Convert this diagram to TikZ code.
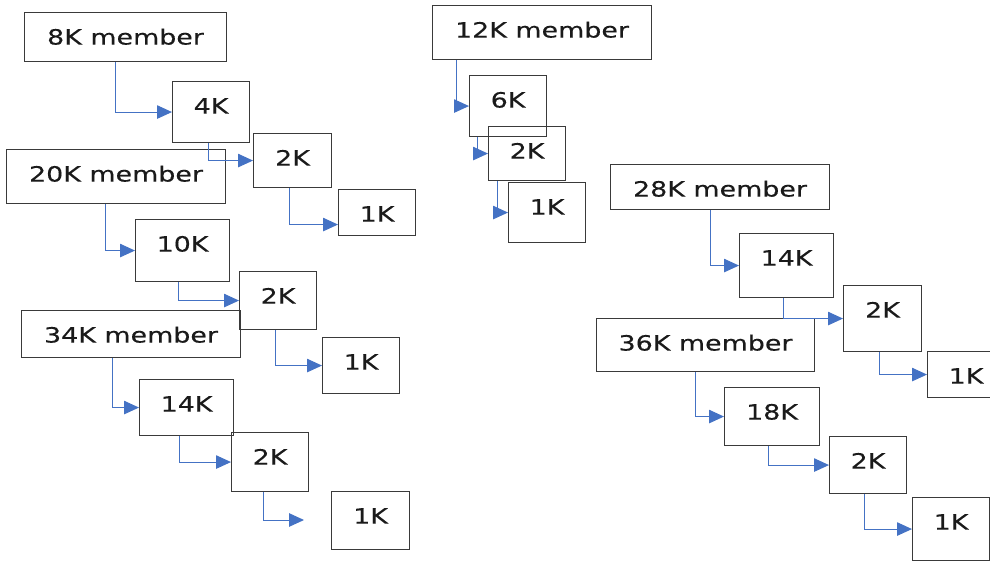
\documentclass[tikz,border=0pt]{standalone}
\usepackage{fontspec}
\setmainfont[FakeStretch=1.28,FakeBold=0.3]{DejaVu Sans}
\usetikzlibrary{arrows.meta}
\definecolor{boxline}{HTML}{3A3A3A}
\definecolor{arrblue}{HTML}{4472C4}
\definecolor{txt}{HTML}{1A1A1A}
\tikzset{
  bx/.style 2 args={draw=boxline, line width=1.1pt, inner sep=0pt, anchor=north west,
    minimum width=#1pt, text height=32pt, text depth=#2pt, text=txt,
    font=\fontsize{21}{24}\selectfont},
  arr/.style={draw=arrblue, line width=1pt, -{Triangle[length=15pt,width=13.5pt]}}
}
\begin{document}
\begin{tikzpicture}[x=1pt,y=-1pt]
\useasboundingbox (0,0) rectangle (990,561);
% left chain 8K
\node[bx={202}{17}] (A0) at (24,12) {8K member};
\node[bx={77}{29}] (A1) at (172,81) {4K};
\node[bx={78}{22}] (A2) at (253,133) {2K};
\node[bx={77}{14}] (A3) at (338,189) {1K};
% 20K
\node[bx={219}{22}] (B0) at (6,149) {20K member};
\node[bx={94}{30}] (B1) at (135,219) {10K};
\node[bx={77}{26}] (B2) at (239,271) {2K};
\node[bx={77}{24}] (B3) at (322,337) {1K};
% 34K
\node[bx={219}{15}] (C0) at (21,310) {34K member};
\node[bx={94}{24}] (C1) at (139,379) {14K};
\node[bx={77}{27}] (C2) at (231,432) {2K};
\node[bx={78}{26}] (C3) at (331,491) {1K};
\coordinate (Ce) at (304,520);
% 12K
\node[bx={219}{22}] (D0) at (432,5) {12K member};
\node[bx={77}{29}] (D1) at (469,75) {6K};
\node[bx={77}{22}] (D2) at (488,126) {2K};
\node[bx={77}{28}] (D3) at (508,182) {1K};
% 28K
\node[bx={219}{13}] (E0) at (610,164) {28K member};
\node[bx={94}{32}] (E1) at (739,233) {14K};
\node[bx={78}{34}] (E2) at (843,285) {2K};
\node[bx={77}{14}] (E3) at (927,351) {1K};
% 36K
\node[bx={218}{21}] (F0) at (596,318) {36K member};
\node[bx={95}{26}] (F1) at (724,387) {18K};
\node[bx={77}{25}] (F2) at (829,436) {2K};
\node[bx={77}{31}] (F3) at (912,497) {1K};
% connectors
\draw[arr] ([xshift=91.7pt]A0.south west) |- (A1.west);
\draw[arr] ([xshift=36pt]A1.south west) |- (A2.west);
\draw[arr] ([xshift=36pt]A2.south west) |- ([yshift=-12pt]A3.west);
\draw[arr] ([xshift=99pt]B0.south west) |- (B1.west);
\draw[arr] ([xshift=43pt]B1.south west) |- (B2.west);
\draw[arr] ([xshift=36pt]B2.south west) |- (B3.west);
\draw[arr] ([xshift=91pt]C0.south west) |- (C1.west);
\draw[arr] ([xshift=40pt]C1.south west) |- (C2.west);
\draw[arr] ([xshift=32pt]C2.south west) |- (Ce);
\draw[arr] ([xshift=24pt]D0.south west) |- (D1.west);
\draw[arr] ([xshift=8pt]D1.south west) |- (D2.west);
\draw[arr] ([xshift=9pt]D2.south west) |- (D3.west);
\draw[arr] ([xshift=100pt]E0.south west) |- (E1.west);
\draw[arr] ([xshift=44pt]E1.south west) |- (E2.west);
\draw[arr] ([xshift=36pt]E2.south west) |- (E3.west);
\draw[arr] ([xshift=99pt]F0.south west) |- (F1.west);
\draw[arr] ([xshift=44pt]F1.south west) |- (F2.west);
\draw[arr] ([xshift=35pt]F2.south west) |- (F3.west);
\end{tikzpicture}
\end{document}
